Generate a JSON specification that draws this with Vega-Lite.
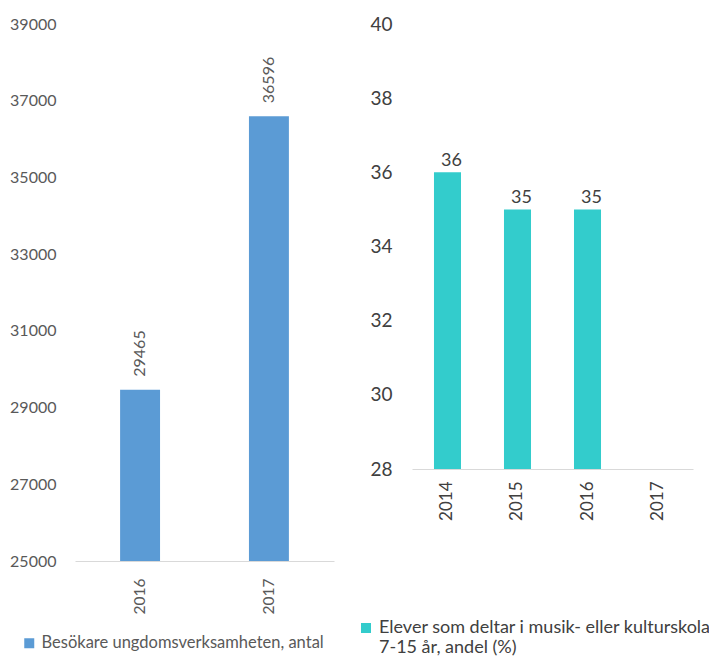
{
  "$schema": "https://vega.github.io/schema/vega-lite/v6.json",
  "padding": {"left": 9, "top": 15, "right": 0, "bottom": 0},
  "spacing": 23,
  "config": {"view": {"stroke": null}, "font": "Lato"},
  "resolve": {"scale": {"color": "independent", "y": "independent", "x": "independent"}, "legend": {"color": "independent"}},
  "hconcat": [
    {
      "width": 259,
      "height": 537,
      "data": {"values": [
        {"year": "2016", "value": 29465, "series": "Besökare ungdomsverksamheten, antal"},
        {"year": "2017", "value": 36596, "series": "Besökare ungdomsverksamheten, antal"}
      ]},
      "encoding": {
        "x": {"field": "year", "type": "ordinal",
          "scale": {"paddingInner": 0.69, "paddingOuter": 0.35},
          "axis": {"title": null, "labelAngle": -90, "labelColor": "#595959", "labelFontSize": 15.5,
            "domainColor": "#D9D9D9", "ticks": false, "labelPadding": 17}},
        "y": {"field": "value", "type": "quantitative",
          "scale": {"domain": [25000, 39000]},
          "axis": {"title": null, "values": [25000, 27000, 29000, 31000, 33000, 35000, 37000, 39000],
            "format": "d", "grid": false, "domain": false, "ticks": false, "labelPadding": 19,
            "labelFontSize": 16, "labelColor": "#595959"}}
      },
      "layer": [
        {"mark": {"type": "bar", "clip": true},
          "encoding": {"color": {"field": "series", "type": "nominal",
            "scale": {"range": ["#5B9BD5"]},
            "legend": {"orient": "none", "legendX": -54, "legendY": 611, "title": null,
              "symbolType": "square", "symbolSize": 100, "symbolStrokeWidth": 0,
              "labelFontSize": 16.5, "labelColor": "#595959", "labelLimit": 400}}}},
        {"mark": {"type": "text", "angle": 270, "align": "left", "baseline": "middle",
            "yOffset": -13, "fontSize": 16, "color": "#595959"},
          "encoding": {"text": {"field": "value", "type": "quantitative", "format": "d"}}}
      ]
    },
    {
      "width": 281,
      "height": 445,
      "data": {"values": [
        {"year": "2014", "value": 36, "series": "Elever som deltar i musik- eller kulturskola 7-15 år, andel (%)"},
        {"year": "2015", "value": 35, "series": "Elever som deltar i musik- eller kulturskola 7-15 år, andel (%)"},
        {"year": "2016", "value": 35, "series": "Elever som deltar i musik- eller kulturskola 7-15 år, andel (%)"},
        {"year": "2017", "value": null, "series": "Elever som deltar i musik- eller kulturskola 7-15 år, andel (%)"}
      ]},
      "encoding": {
        "x": {"field": "year", "type": "ordinal",
          "scale": {"domain": ["2014", "2015", "2016", "2017"], "paddingInner": 0.614, "paddingOuter": 0.314},
          "axis": {"title": null, "labelAngle": -90, "labelColor": "#404040", "labelFontSize": 17,
            "domainColor": "#D9D9D9", "ticks": false, "labelPadding": 12}},
        "y": {"field": "value", "type": "quantitative",
          "scale": {"domain": [28, 40]},
          "axis": {"title": null, "values": [28, 30, 32, 34, 36, 38, 40],
            "grid": false, "domain": false, "ticks": false, "labelPadding": 20,
            "labelFontSize": 19, "labelColor": "#404040"}}
      },
      "layer": [
        {"mark": {"type": "bar", "clip": true},
          "encoding": {"color": {"field": "series", "type": "nominal",
            "scale": {"range": ["#33CCCC"]},
            "legend": {"orient": "none", "legendX": -55, "legendY": 595, "title": null,
              "symbolType": "square", "symbolSize": 100, "symbolStrokeWidth": 0,
              "labelFontSize": 18, "labelColor": "#404040", "labelLimit": 400,
              "labelExpr": "['Elever som deltar i musik- eller kulturskola', '7-15 år, andel (%)']"}}}},
        {"mark": {"type": "text", "align": "center", "baseline": "alphabetic",
            "dy": -6, "dx": 4, "fontSize": 18, "color": "#404040"},
          "encoding": {"text": {"field": "value", "type": "quantitative"}}}
      ]
    }
  ]
}
